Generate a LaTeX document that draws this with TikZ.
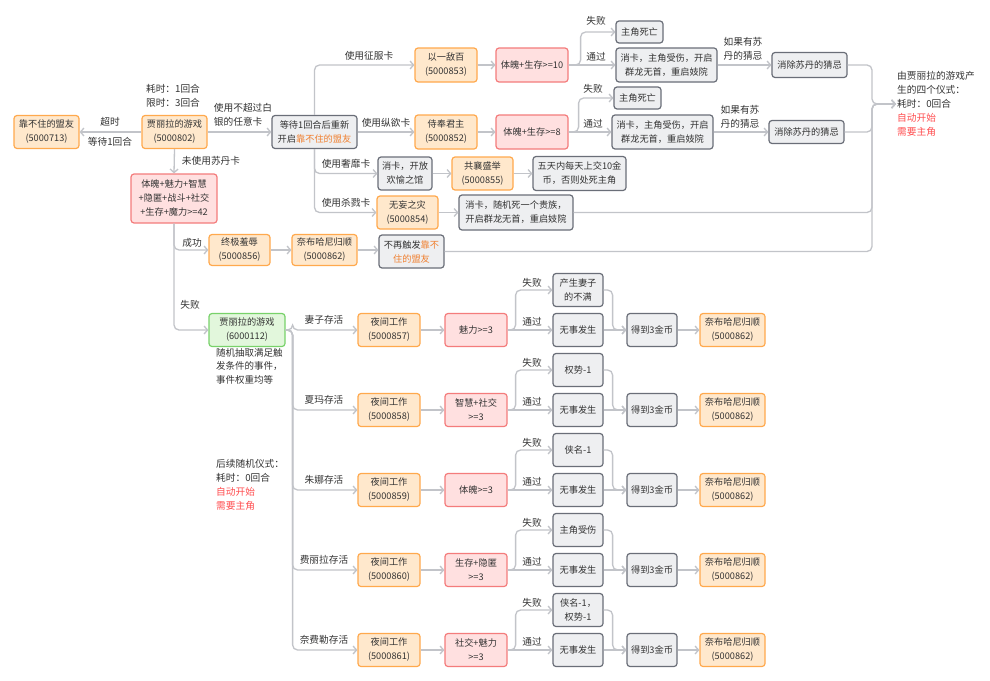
\documentclass[tikz,border=0pt]{standalone}
\usepackage{fontspec}
\setmainfont{Noto Sans CJK SC}
\usetikzlibrary{arrows.meta}
\definecolor{orfill}{HTML}{FFE8CC}
\definecolor{ordraw}{HTML}{FFA94D}
\definecolor{rdfill}{HTML}{FFE0E0}
\definecolor{rddraw}{HTML}{F47C7C}
\definecolor{gyfill}{HTML}{EEEFF1}
\definecolor{gydraw}{HTML}{6A6E78}
\definecolor{grfill}{HTML}{E2F7DC}
\definecolor{grdraw}{HTML}{78D26A}
\definecolor{conncol}{HTML}{C2C4C9}
\definecolor{txt}{HTML}{333333}
\definecolor{ortxt}{HTML}{F08030}
\definecolor{rdtxt}{HTML}{FF4D4F}
\newcommand\fs{\fontsize{9.2}{14}\selectfont}
\newcommand\fl{\fontsize{9.7}{14}\selectfont}
\begin{document}
\begin{tikzpicture}[x=1pt,y=-1pt,
  box/.style={rounded corners=3pt, line width=1.2pt, align=center, inner sep=1pt, text=txt, font=\fs, minimum height=33pt},
  ob/.style={box, draw=ordraw, fill=orfill},
  rb/.style={box, draw=rddraw, fill=rdfill},
  gb/.style={box, draw=gydraw, fill=gyfill},
  eb/.style={box, draw=grdraw, fill=grfill},
  lbl/.style={text=txt, font=\fl, inner sep=1pt},
  conn/.style={draw=conncol, line width=1.3pt, -{Straight Barb[length=3.5pt,width=8pt]}, rounded corners=5pt}]
\fill[white] (0,0) rectangle (990,680);
\useasboundingbox (0,0) rectangle (990,680);

% top-left
\node[ob, minimum width=65pt] (n713) at (46.5,132) {靠不住的盟友\\(5000713)};
\node[ob, minimum width=65pt] (n802) at (174.5,132) {贾丽拉的游戏\\(5000802)};
\node[lbl, align=left] (t802) at (173,96) {耗时：1回合\\限时：3回合};
\node[lbl] (lto) at (110,122) {超时};
\node[lbl] (lwt) at (110,142) {等待1回合};
\draw[conn] (n802.west) -- (n713.east);
\node[gb, minimum width=85pt] (nW) at (314.5,132) {等待1回合后重新\\开启\textcolor{ortxt}{靠不住的盟友}};
\draw[conn] (n802.east) -- (nW.west);
\node[lbl, align=left] (lany) at (243,115) {使用不超过白\\银的任意卡};
\node[rb, minimum width=86pt, minimum height=49pt] (nR) at (174,198.5) {体魄+魅力+智慧\\+隐匿+战斗+社交\\+生存+魔力>=42};
\draw[conn] (n802.south) -- (nR.north);
\node[lbl] (lnos) at (211,161) {未使用苏丹卡};

% success branch
\node[ob, minimum width=61pt, minimum height=31pt] (n856) at (239.5,250) {终极羞辱\\(5000856)};
\node[ob, minimum width=65pt, minimum height=31pt] (n862a) at (324.5,250) {奈布哈尼归顺\\(5000862)};
\node[gb, minimum width=65pt] (nNo) at (411.5,251.5) {不再触发\textcolor{ortxt}{靠不}\\\textcolor{ortxt}{住的盟友}};
\draw[conn] (nR.south) |- (n856.west);
\node[lbl] (lsuc) at (192,243) {成功};
\draw[conn] (n856.east) -- (n862a.west);
\draw[conn] (n862a.east) -- (n862a.east -| nNo.west);

% card branches
\node[ob, minimum width=62pt, minimum height=34pt] (n853) at (446,65) {以一敌百\\(5000853)};
\node[rb, minimum width=72pt, minimum height=34pt] (c10) at (532,65) {体魄+生存>=10};
\node[gb, minimum width=47pt, minimum height=22pt] (d1) at (639.5,32) {主角死亡};
\node[gb, minimum width=101pt, minimum height=34pt] (x1) at (666.5,65) {消卡，主角受伤，开启\\群龙无首，重启妓院};
\node[gb, minimum width=75pt, minimum height=25pt] (s1) at (809.5,65) {消除苏丹的猜忌};
\draw[conn] (nW.north) |- (n853.west);
\node[lbl] (lzf) at (369,56) {使用征服卡};
\draw[conn] (n853.east) -- (c10.west);
\draw[conn] (c10.east) -- ++(12,0) |- (d1.west);
\draw[conn] (c10.east) -- (x1.west);
\node[lbl] (lf1) at (596,21) {失败};
\node[lbl] (lp1) at (596,57) {通过};
\draw[conn] (x1.east) -- (s1.west);
\node[lbl, align=left] (lif1) at (743,49) {如果有苏\\丹的猜忌};

\node[ob, minimum width=62pt, minimum height=34pt] (n852) at (446,132) {侍奉君主\\(5000852)};
\node[rb, minimum width=72pt, minimum height=34pt] (c8) at (532,132) {体魄+生存>=8};
\node[gb, minimum width=47pt, minimum height=22pt] (d2) at (637.5,98) {主角死亡};
\node[gb, minimum width=101pt, minimum height=34pt] (x2) at (662.5,132) {消卡，主角受伤，开启\\群龙无首，重启妓院};
\node[gb, minimum width=75pt, minimum height=23pt] (s2) at (806.5,132) {消除苏丹的猜忌};
\draw[conn] (nW.east) -- (n852.west);
\node[lbl] (lzy) at (386,123) {使用纵欲卡};
\draw[conn] (n852.east) -- (c8.west);
\draw[conn] (c8.east) -- ++(10,0) |- (d2.west);
\draw[conn] (c8.east) -- (x2.west);
\node[lbl] (lf2) at (593,89) {失败};
\node[lbl] (lp2) at (593,124) {通过};
\draw[conn] (x2.east) -- (s2.west);
\node[lbl, align=left] (lif2) at (740,117) {如果有苏\\丹的猜忌};

\node[gb, minimum width=54pt] (n855c) at (405,173.5) {消卡，开放\\欢愉之馆};
\node[ob, minimum width=61pt] (n855) at (482.5,173.5) {共襄盛举\\(5000855)};
\node[gb, minimum width=93pt, minimum height=34pt] (five) at (579.5,173.5) {五天内每天上交10金\\币，否则处死主角};
\draw[conn] (nW.south) |- (n855c.west);
\node[lbl] (lsm) at (346,164) {使用奢靡卡};
\draw[conn] (n855c.east) -- (n855.west);
\draw[conn] (n855.east) -- (five.west);

\node[ob, minimum width=61pt] (n854) at (407.5,212.5) {无妄之灾\\(5000854)};
\node[gb, minimum width=114pt, minimum height=35pt] (kill) at (516,212.5) {消卡，随机死一个贵族，\\开启群龙无首，重启妓院};
\draw[conn] (nW.south) |- (n854.west);
\node[lbl] (lsl) at (346,203) {使用杀戮卡};
\draw[conn] (n854.east) -- (kill.west);

% right summary
\node[lbl, align=left, anchor=west] (rt) at (896,104) {由贾丽拉的游戏产\\生的四个仪式：\\耗时：0回合\\\textcolor{rdtxt}{自动开始}\\\textcolor{rdtxt}{需要主角}};
\coordinate (J) at (872,104);
\draw[conn] (s1.east) -| (J) -- (rt.west);
\draw[conn] (s2.east) -| (J) -- (rt.west);
\draw[conn] (kill.east) -| (J) -- (rt.west);
\draw[conn] (nNo.east) -| (J) -- (rt.west);

% lower part
\node[eb, minimum width=76pt] (g112) at (247,330) {贾丽拉的游戏\\(6000112)};
\draw[conn] (nR.south) |- (g112.west);
\node[lbl] (lfail) at (190,305) {失败};
\node[lbl, align=left, anchor=north west, font=\fontsize{9.5}{13.5}\selectfont] (desc) at (215,347) {随机抽取满足触\\发条件的事件，\\事件权重均等};
\node[lbl, align=left, anchor=west] (later) at (215,485) {后续随机仪式：\\耗时：0回合\\\textcolor{rdtxt}{自动开始}\\\textcolor{rdtxt}{需要主角}};

\foreach \i/\yy/\name/\code/\cond/\fail in {
  1/330/妻子存活/5000857/魅力>=3/产生妻子\\的不满,
  2/410/夏玛存活/5000858/智慧+社交\\>=3/权势-1,
  3/490/朱娜存活/5000859/体魄>=3/侠名-1,
  4/570/费丽拉存活/5000860/生存+隐匿\\>=3/主角受伤,
  5/650/奈费勒存活/5000861/社交+魅力\\>=3/侠名-1，\\权势-1} {
  \node[ob, minimum width=62pt] (w\i) at (389,\yy) {夜间工作\\(\code)};
  \node[rb, minimum width=62pt] (c\i) at (476,\yy) {\cond};
  \node[gb, minimum width=50pt] (f\i) at (578,\yy-40) {\fail};
  \node[gb, minimum width=50pt] (p\i) at (578,\yy) {无事发生};
  \node[gb, minimum width=50pt] (g\i) at (652,\yy) {得到3金币};
  \node[ob, minimum width=65pt] (n\i) at (732.5,\yy) {奈布哈尼归顺\\(5000862)};
  \draw[conn] (g112.east) -- ++(7,0) |- (w\i.west);
  \node[lbl] (ln\i) at (324,\yy-10) {\name};
  \draw[conn] (w\i.east) -- (c\i.west);
  \draw[conn] (c\i.east) -- ++(8,0) |- (f\i.west);
  \draw[conn] (c\i.east) -- (p\i.west);
  \node[lbl] (lf\i) at (532,\yy-47) {失败};
  \node[lbl] (lp\i) at (532,\yy-8) {通过};
  \draw[conn] (f\i.east) -- ++(9,0) |- (g\i.west);
  \draw[conn] (p\i.east) -- (g\i.west);
  \draw[conn] (g\i.east) -- (n\i.west);
}
\end{tikzpicture}
\end{document}
